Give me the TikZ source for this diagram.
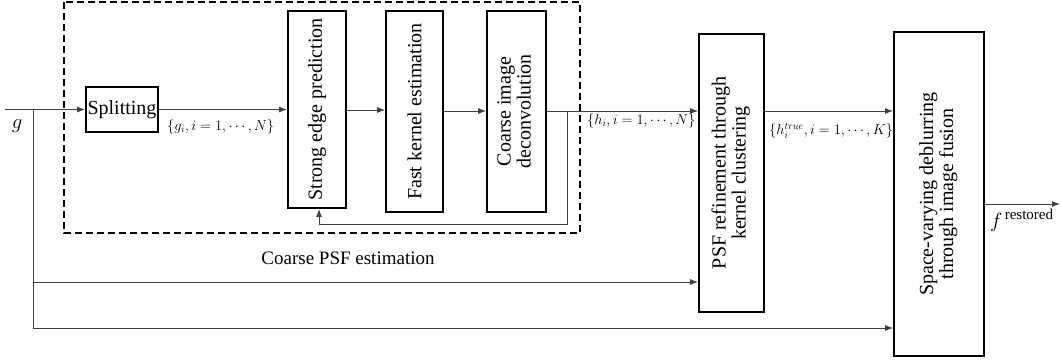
\documentclass[tikz,border=0pt]{standalone}
\usepackage{fontspec}
\usepackage{graphicx}
\setmainfont{Liberation Serif}
\usetikzlibrary{arrows.meta}
\begin{document}
\begin{tikzpicture}[x=1pt,y=-1pt,
  box/.style={draw=black,line width=1.8pt,inner sep=0pt,font=\fontsize{20}{21}\selectfont},
  conn/.style={draw=black!75,line width=0.9pt,-{Latex[length=8pt,width=6pt]}},
  plain/.style={draw=black!75,line width=0.9pt},
  lbl/.style={inner sep=0pt,font=\fontsize{14}{16}\selectfont,anchor=west}]
\useasboundingbox (0,0) rectangle (1061,360);
\draw[black,line width=1.6pt,dash pattern=on 7pt off 4pt] (64,2) rectangle (580,233);
\node[box,minimum width=72pt,minimum height=45pt] (split) at (122,109.5) {Splitting};
\node[box,minimum width=58pt,minimum height=197pt] (strong) at (317,109.5) {\rotatebox{90}{Strong edge prediction}};
\node[box,minimum width=57pt,minimum height=201pt] (fast) at (414.5,111.5) {\rotatebox{90}{Fast kernel estimation}};
\node[box,minimum width=59pt,minimum height=201pt] (coarse) at (516.5,111.5) {\rotatebox{90}{\begin{tabular}{@{}c@{}}Coarse image\\[-1pt]deconvolution\end{tabular}}};
\node[box,minimum width=65pt,minimum height=278pt] (psf) at (731.5,173) {\rotatebox{90}{\begin{tabular}{@{}c@{}}PSF refinement through\\[-1pt]kernel clustering\end{tabular}}};
\node[box,minimum width=90pt,minimum height=324pt] (space) at (939,194) {\rotatebox{90}{\begin{tabular}{@{}c@{}}Space-varying deblurring\\[-1pt]through image fusion\end{tabular}}};
\coordinate (in) at (5,109.5);
\coordinate (br) at (33,109.5);
\coordinate (out) at (1060,204);
\coordinate (fb) at (567,111);
\node[inner sep=0pt,font=\fontsize{20}{22}\selectfont] (g) at (17,126) {$g$};
\node[inner sep=0pt,font=\fontsize{19}{21}\selectfont] (cpsf) at (348,258) {Coarse PSF estimation};
\node[lbl] (lg) at (167,127) {$\{g_i,i=1,\cdots,N\}$};
\node[lbl] (lh) at (587,121) {$\{h_i,i=1,\cdots,N\}$};
\node[lbl] (lht) at (769,131) {$\{h_i^{true},i=1,\cdots,K\}$};
\node[inner sep=0pt,anchor=north west] (lf) at (990,209) {\fontsize{20}{22}\selectfont$f^{\,\mbox{\fontsize{15}{16}\selectfont restored}}$};
\draw[conn] (in) -- (split.west);
\draw[conn] (split.east) -- (strong.west |- split.east);
\draw[conn] (strong.east |- 0,110) -- (fast.west |- 0,110);
\draw[conn] (fast.east |- 0,111) -- (coarse.west |- 0,111);
\draw[conn] (coarse.east |- 0,111) -- (psf.west |- 0,111);
\draw[conn] (psf.east |- 0,111) -- (space.west |- 0,111);
\draw[conn] (fb) -- (fb |- 0,224) -| (strong.south -| 319,0);
\draw[conn] (space.east |- out) -- (out);
\draw[plain] (br) -- (br |- 0,328);
\draw[conn] (br |- 0,282) -- (psf.west |- 0,282);
\draw[conn] (br |- 0,328) -- (space.west |- 0,328);
\end{tikzpicture}
\end{document}
